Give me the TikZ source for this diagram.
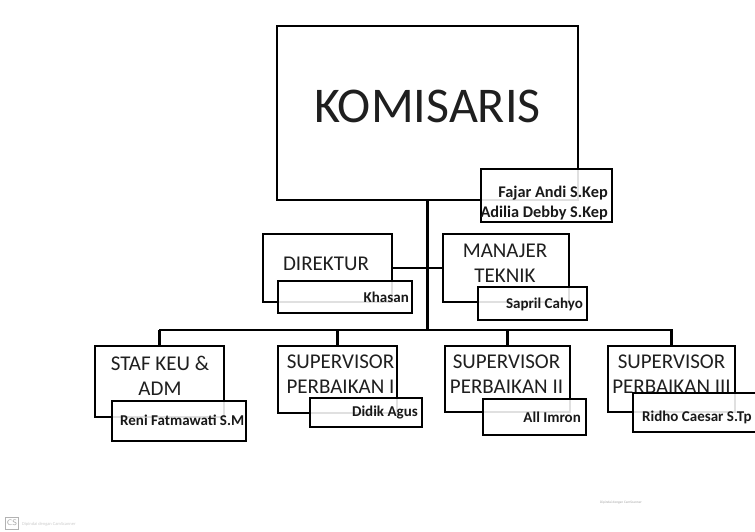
\documentclass[tikz,border=0pt]{standalone}
\usepackage{fontspec}
\setmainfont{Carlito}
\begin{document}
\begin{tikzpicture}[x=1pt,y=-1pt,
  lw/.style={line width=2.6pt},
  tbox/.style={draw=black, lw, fill=white, inner sep=0pt},
  nbox/.style={draw=black, lw, fill=white, fill opacity=0.88, text opacity=1, inner sep=0pt},
  ttext/.style={font=\fontsize{21}{24.5}\selectfont, align=center, inner sep=0pt, text=black!88},
  ntext/.style={font=\bfseries\fontsize{15}{19.5}\selectfont, inner sep=0pt, text=black!90},
  wm/.style={text=black!35, inner sep=0pt}
]
\clip (0,0) rectangle (755,532);
\fill[white] (0,0) rectangle (755,532);

% top level
\node[tbox, minimum width=301pt, minimum height=174pt] (kom) at (427.5,113) {};
\node[font=\fontsize{50}{60}\selectfont, inner sep=0pt, anchor=base, text=black!88] (komt) at (427.5,123) {KOMISARIS};

\coordinate (busL) at (160,330);
\coordinate (busR) at (672,330);

\node[tbox, minimum width=129pt, minimum height=68pt] (dir) at (327.5,268) {};
\node[tbox, minimum width=126pt, minimum height=68pt] (man) at (506,268) {};
\node[tbox, minimum width=129pt, minimum height=71pt] (staf) at (159.5,381.5) {};
\node[tbox, minimum width=119pt, minimum height=67pt] (sup1) at (337.5,379.5) {};
\node[tbox, minimum width=125pt, minimum height=66pt] (sup2) at (507.5,379) {};
\node[tbox, minimum width=127pt, minimum height=66pt] (sup3) at (671.5,379) {};

\draw[lw] (kom.south) -- (kom.south |- busL);
\draw[lw] (dir.east) -- (man.west);
\draw[lw, line cap=rect] (busL) -- (busR);
\draw[lw] (staf.north) -- (staf.north |- busL);
\draw[lw] (sup1.north) -- (sup1.north |- busL);
\draw[lw] (sup2.north) -- (sup2.north |- busL);
\draw[lw] (sup3.north) -- (sup3.north |- busL);

% title texts (anchor=base sits on the last line)
\node[ttext, anchor=base] (dirt) at (326,270) {DIREKTUR};
\node[ttext, anchor=base] (mant) at (505,282) {MANAJER\\TEKNIK};
\node[ttext, anchor=base] (staft) at (160,395) {STAF KEU \&\\ADM};
\node[ttext, anchor=base] (sup1t) at (340.5,393) {SUPERVISOR\\PERBAIKAN I};
\node[ttext, anchor=base] (sup2t) at (506.5,393) {SUPERVISOR\\PERBAIKAN II};
\node[ttext, anchor=base] (sup3t) at (671.5,393) {SUPERVISOR\\PERBAIKAN III};

% name boxes
\node[nbox, minimum width=131pt, minimum height=53pt] (fajb) at (546.5,195.5) {};
\node[ntext, font=\bfseries\fontsize{16.3}{19.5}\selectfont, align=right, anchor=base east] (fajt) at (608,217) {Fajar Andi S.Kep\\Adilia Debby S.Kep};

\node[nbox, minimum width=134pt, minimum height=32pt] (khab) at (345,297) {};
\node[ntext, anchor=base east] (khat) at (409,302) {Khasan};

\node[nbox, minimum width=109pt, minimum height=33pt] (sapb) at (532.5,303.5) {};
\node[ntext, anchor=base east] (sapt) at (583,308) {Sapril Cahyo};

\node[nbox, minimum width=134pt, minimum height=40pt] (renb) at (179,421) {};
\node[ntext, anchor=base west] (rent) at (120,425) {Reni Fatmawati S.M};

\node[nbox, minimum width=112pt, minimum height=29pt] (didb) at (366,412.5) {};
\node[ntext, anchor=base east] (didt) at (418,416) {Didik Agus};

\node[nbox, minimum width=103pt, minimum height=36pt] (alib) at (534.5,417) {};
\node[ntext, anchor=base east] (alit) at (581,422) {All Imron};

\node[nbox, minimum width=132pt, minimum height=39pt] (ridb) at (699,412.5) {};
\node[ntext, anchor=base west] (ridt) at (642,421) {Ridho Caesar S.Tp};

% scanner marks
\node[wm, font=\fontsize{3.5}{4}\selectfont, anchor=west] (wm1) at (600,503) {Dipindai dengan CamScanner};
\node[wm, draw=black!30, line width=0.6pt, font=\sffamily\fontsize{8}{9}\selectfont, minimum width=13pt, minimum height=12pt] (cs) at (12,523) {CS};
\node[wm, text=black!20, font=\fontsize{4.5}{5}\selectfont, anchor=west] (wm2) at (22,524) {Dipindai dengan CamScanner};
\end{tikzpicture}
\end{document}
